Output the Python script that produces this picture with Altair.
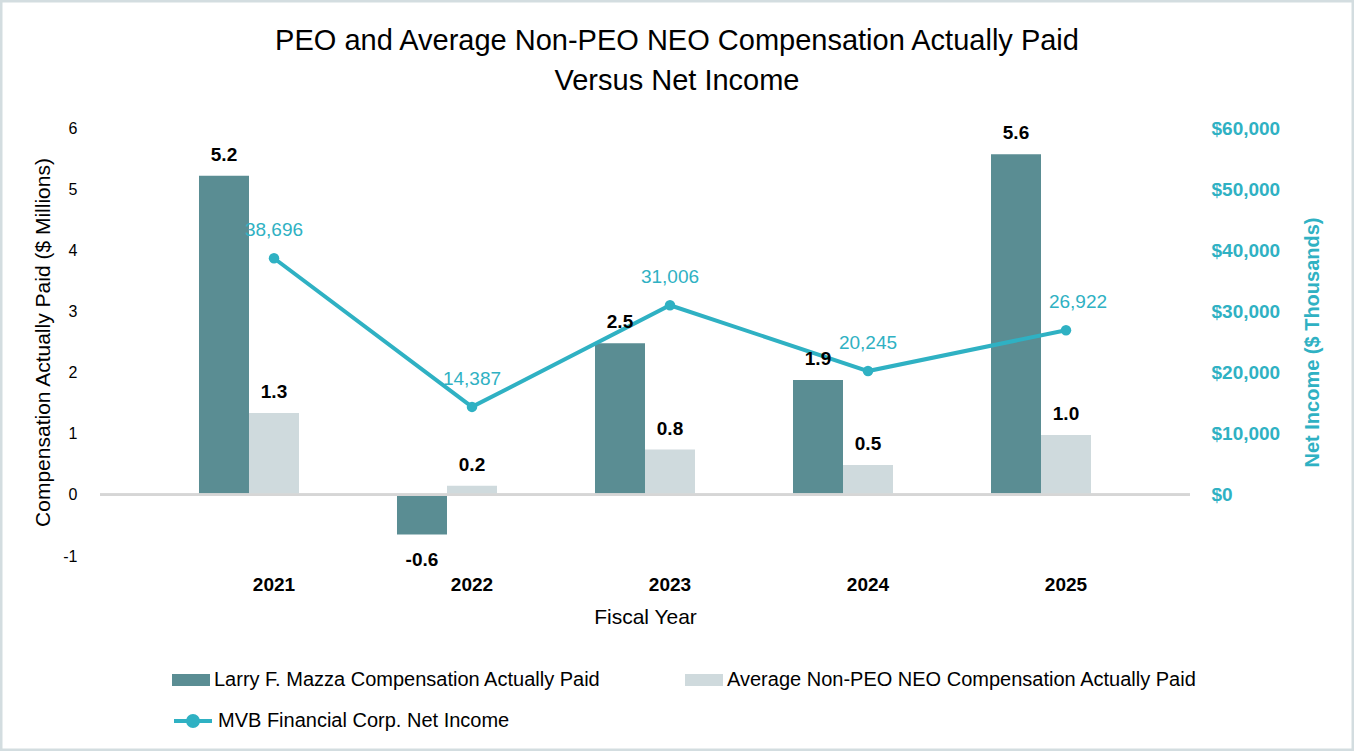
import altair as alt
import pandas as pd

# ---- data ----
years = ["2021", "2022", "2023", "2024", "2025"]
peo_cap = [5.22, -0.65, 2.48, 1.88, 5.57]
peo_labels = ["5.2", "-0.6", "2.5", "1.9", "5.6"]
neo_cap = [1.34, 0.15, 0.74, 0.49, 0.98]
neo_labels = ["1.3", "0.2", "0.8", "0.5", "1.0"]
net_income = [38696, 14387, 31006, 20245, 26922]
left_ticks = [-1, 0, 1, 2, 3, 4, 5, 6]
right_ticks = [0, 10000, 20000, 30000, 40000, 50000, 60000]

SER_PEO = "Larry F. Mazza Compensation Actually Paid"
SER_NEO = "Average Non-PEO NEO Compensation Actually Paid"
SER_NI = "MVB Financial Corp. Net Income"

DARK = "#5a8d93"
LIGHT = "#cfdadd"
TEAL = "#2fb1c3"
FONT = "Liberation Sans"

bars_df = pd.DataFrame(
    {
        "year": years * 2,
        "series": [SER_PEO] * 5 + [SER_NEO] * 5,
        "value": peo_cap + neo_cap,
        "label": peo_labels + neo_labels,
    }
)
ni_df = pd.DataFrame(
    {
        "year": years,
        "series": [SER_NI] * 5,
        "ni": net_income,
        "nilabel": [f"{v:,}" for v in net_income],
    }
)

x_enc = alt.X(
    "year:N",
    sort=years,
    scale=alt.Scale(paddingInner=0, paddingOuter=0.2525, align=0.75),
    axis=alt.Axis(
        title="Fiscal Year",
        labelAngle=0,
        labelFontSize=19,
        labelFontWeight="bold",
        labelColor="black",
        labelPadding=19,
        ticks=False,
        domain=False,
        titleFontSize=21,
        titleFontWeight="normal",
        titleColor="black",
        titlePadding=12,
    ),
)
xoff = alt.XOffset(
    "series:N",
    scale=alt.Scale(domain=[SER_PEO, SER_NEO, "blank"], paddingInner=0, paddingOuter=0.48),
)


def left_scale():
    return alt.Scale(domain=[-1, 6], nice=False, zero=False)


bar_path = "M-1,-0.32H1V0.32H-1Z"
line_path = "M-1,0H1M0.26,0A0.26,0.26 0 1,1 -0.26,0A0.26,0.26 0 1,1 0.26,0Z"

bars = (
    alt.Chart(bars_df)
    .mark_bar()
    .encode(
        x=x_enc,
        xOffset=xoff,
        y=alt.Y(
            "value:Q",
            scale=left_scale(),
            axis=alt.Axis(
                orient="left",
                values=left_ticks,
                labelExpr="datum.value + ''",
                ticks=False,
                domain=False,
                grid=False,
                labelFontSize=16,
                labelColor="black",
                labelPadding=23,
                title="Compensation Actually Paid ($ Millions)",
                titleFontSize=21,
                titleFontWeight="normal",
                titleColor="black",
                titleX=-57,
                titleY=214,
                titleAlign="center",
                titleBaseline="middle",
                titleAngle=270,
            ),
        ),
        color=alt.Color(
            "series:N",
            scale=alt.Scale(domain=[SER_PEO, SER_NEO], range=[DARK, LIGHT]),
            legend=alt.Legend(
                orient="none",
                legendX=72,
                legendY=533,
                columns=2,
                title=None,
                symbolType=bar_path,
                symbolSize=1444,
                symbolStrokeWidth=0,
                symbolOpacity=1,
                labelFontSize=20,
                labelColor="black",
                labelOffset=4,
                labelLimit=500,
                columnPadding=84,
            ),
        ),
    )
)

zero_rule = (
    alt.Chart(bars_df)
    .mark_rule(color="#d6d6d6", strokeWidth=2)
    .encode(y=alt.YDatum(0))
)

left = alt.layer(bars, zero_rule)

y_right = alt.Y(
    "ni:Q",
    scale=alt.Scale(domain=[-10000, 60000], nice=False, zero=False),
    axis=alt.Axis(
        orient="right",
        values=right_ticks,
        format="$,.0f",
        ticks=False,
        domain=False,
        grid=False,
        labelFontSize=19,
        labelFontWeight="bold",
        labelColor=TEAL,
        labelPadding=21,
        title="Net Income ($ Thousands)",
        titleFontSize=20,
        titleFontWeight="bold",
        titleColor=TEAL,
        titleAngle=270,
        titleX=122,
        titleY=214,
        titleAlign="center",
        titleBaseline="middle",
    ),
)

line = (
    alt.Chart(ni_df)
    .mark_line(strokeWidth=4)
    .encode(
        x=alt.X("year:N", sort=years),
        y=y_right,
        stroke=alt.Stroke(
            "series:N",
            scale=alt.Scale(domain=[SER_NI], range=[TEAL]),
            legend=alt.Legend(
                orient="none",
                legendX=72,
                legendY=572,
                title=None,
                symbolType=line_path,
                symbolSize=1444,
                symbolStrokeWidth=4,
                symbolFillColor=TEAL,
                labelFontSize=20,
                labelColor="black",
                labelOffset=4,
                labelLimit=500,
            ),
        ),
    )
)
points = (
    alt.Chart(ni_df)
    .mark_circle(size=110, color=TEAL, opacity=1)
    .encode(x=alt.X("year:N", sort=years), y=alt.Y("ni:Q"))
)
ni_labels = (
    alt.Chart(ni_df)
    .transform_filter("datum.year != '2025'")
    .mark_text(fontSize=19, color=TEAL, dy=-28, baseline="middle")
    .encode(x=alt.X("year:N", sort=years), y=alt.Y("ni:Q"), text="nilabel:N")
)
ni_labels_last = (
    alt.Chart(ni_df)
    .transform_filter("datum.year == '2025'")
    .mark_text(fontSize=19, color=TEAL, dy=-28, dx=12, baseline="middle")
    .encode(x=alt.X("year:N", sort=years), y=alt.Y("ni:Q"), text="nilabel:N")
)

right = alt.layer(line, points, ni_labels, ni_labels_last)

pos_labels = (
    alt.Chart(bars_df)
    .transform_filter("datum.value >= 0")
    .mark_text(fontSize=19, fontWeight="bold", color="black", dy=-15, baseline="alphabetic")
    .encode(
        x=alt.X("year:N", sort=years),
        xOffset=xoff,
        y=alt.Y("value:Q", scale=left_scale(), axis=None),
        text="label:N",
    )
)
neg_labels = (
    alt.Chart(bars_df)
    .transform_filter("datum.value < 0")
    .mark_text(fontSize=19, fontWeight="bold", color="black", dy=31, baseline="alphabetic")
    .encode(
        x=alt.X("year:N", sort=years),
        xOffset=xoff,
        y=alt.Y("value:Q", scale=left_scale(), axis=None),
        text="label:N",
    )
)
bar_labels = alt.layer(pos_labels, neg_labels)

border = (
    alt.Chart(pd.DataFrame({"a": [0]}))
    .mark_rect(fillOpacity=0, stroke="#d3dde0", strokeWidth=3)
    .encode(x=alt.value(-99), x2=alt.value(1253), y=alt.value(-127), y2=alt.value(622))
)

chart = (
    alt.layer(left, right, bar_labels, border)
    .resolve_scale(y="independent", color="independent", stroke="independent")
    .properties(
        width=1090,
        height=428,
        padding={"left": 100, "top": 128, "right": 164, "bottom": 195},
        autosize=alt.AutoSizeParams(type="none"),
        title=alt.Title(
            ["PEO and Average Non-PEO NEO Compensation Actually Paid", "Versus Net Income"],
            fontSize=29,
            fontWeight="normal",
            color="black",
            anchor="middle",
            frame="group",
            dx=32,
            offset=-96,
            lineHeight=40,
            font=FONT,
        ),
    )
    .configure(font=FONT, background="white")
    .configure_view(stroke=None)
)

chart.save("out.html", embed_options={"renderer": "svg", "actions": False})
